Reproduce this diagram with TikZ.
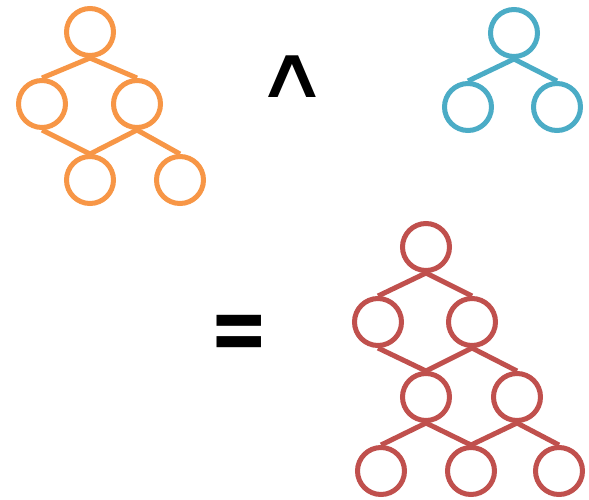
\documentclass[tikz,border=0pt]{standalone}
\usepackage{fontspec}
\newfontfamily\symfont{DejaVu Sans}
\definecolor{orng}{HTML}{F79646}
\definecolor{blu}{HTML}{4BACC6}
\definecolor{rd}{HTML}{C0504D}
\begin{document}
\begin{tikzpicture}[x=1pt,y=-1pt,
  nd/.style={circle,draw,line width=5pt,minimum size=47pt,inner sep=0pt,fill=white},
  ed/.style={line width=5pt}]
\useasboundingbox (0,0) rectangle (589,499);
% orange tree
\begin{scope}[every node/.style={nd,draw=orng}]
\node (o1) at (90,32) {};
\node (o2) at (42,104) {};
\node (o3) at (137,104) {};
\node (o4) at (90,180) {};
\node (o5) at (180,180) {};
\end{scope}
\begin{scope}[ed,orng]
\draw (o1.south) -- (o2.north);
\draw (o1.south) -- (o3.north);
\draw (o2.south) -- (o4.north);
\draw (o3.south) -- (o4.north);
\draw (o3.south) -- (o5.north);
\end{scope}
% blue tree
\begin{scope}[every node/.style={nd,draw=blu}]
\node (b1) at (514,33) {};
\node (b2) at (468,107) {};
\node (b3) at (557,107) {};
\end{scope}
\begin{scope}[ed,blu]
\draw (b1.south) -- (b2.north);
\draw (b1.south) -- (b3.north);
\end{scope}
% red tree
\begin{scope}[every node/.style={nd,draw=rd}]
\node (r1) at (426,247) {};
\node (r2) at (378,322) {};
\node (r3) at (472,322) {};
\node (r4) at (426,397) {};
\node (r5) at (517,397) {};
\node (r6) at (381,471) {};
\node (r7) at (471,471) {};
\node (r8) at (559,471) {};
\end{scope}
\begin{scope}[ed,rd]
\draw (r1.south) -- (r2.north);
\draw (r1.south) -- (r3.north);
\draw (r2.south) -- (r4.north);
\draw (r3.south) -- (r4.north);
\draw (r3.south) -- (r5.north);
\draw (r4.south) -- (r6.north);
\draw (r4.south) -- (r7.north);
\draw (r5.south) -- (r7.north);
\draw (r5.south) -- (r8.north);
\end{scope}
% operators
\node[inner sep=0pt,xscale=1.4,font=\symfont\fontsize{72}{72}\selectfont] (and) at (292,77) {∧};
\node[inner sep=0pt,yscale=1.35,font=\symfont\bfseries\fontsize{71}{71}\selectfont] (eq) at (239,338) {=};
\end{tikzpicture}
\end{document}
